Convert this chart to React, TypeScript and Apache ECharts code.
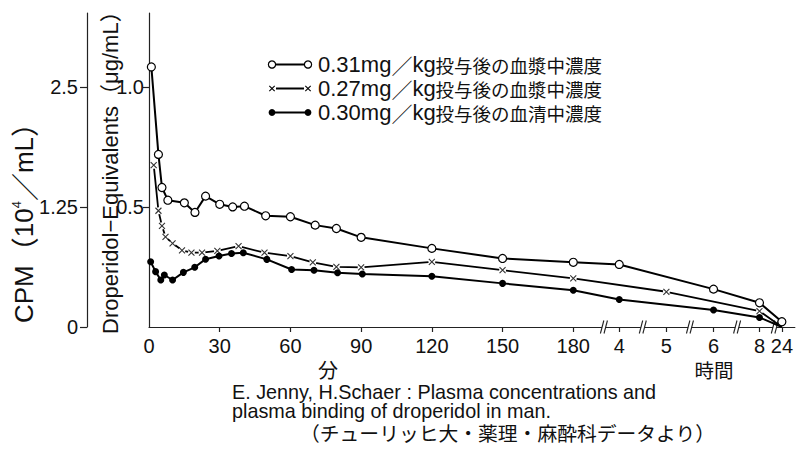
import React, { useEffect, useRef } from "react";
import * as echarts from "echarts";

const LATIN = '"Liberation Sans", Arial, sans-serif';
const CJK = '"Noto Sans CJK JP", sans-serif';
const MIXED = '"Liberation Sans", "Noto Sans CJK JP", sans-serif';
const INK = "#111";

// Sampling times in minutes after dosing
const timesA = [1, 4, 5.5, 8, 15, 19.5, 24, 30, 35.5, 40.5, 49.5, 60, 70.5, 79.5, 90, 120, 150, 180, 240, 360, 480, 1440];
// 0.31 mg/kg, plasma (µg/mL droperidol equivalents)
const plasma031 = [1.085, 0.72, 0.582, 0.529, 0.518, 0.478, 0.546, 0.512, 0.501, 0.504, 0.464, 0.46, 0.425, 0.411, 0.374, 0.328, 0.286, 0.27, 0.261, 0.158, 0.101, 0.022];

const timesB = [2, 4, 5.5, 7, 10, 14, 18, 22.5, 29, 38, 49, 60, 69.5, 79.5, 90, 120, 150, 180, 300, 480, 1440];
// 0.27 mg/kg, plasma
const plasma027 = [0.675, 0.485, 0.422, 0.376, 0.349, 0.32, 0.31, 0.31, 0.318, 0.337, 0.31, 0.296, 0.27, 0.251, 0.249, 0.272, 0.237, 0.203, 0.147, 0.066, 0];

const timesC = [0.7, 2.8, 5, 6.5, 10, 14.6, 19.4, 24, 29.7, 35, 40, 50, 60.5, 70, 80, 90.5, 120, 150, 180, 240, 360, 480, 1440];
// 0.30 mg/kg, serum
const serum030 = [0.272, 0.231, 0.196, 0.217, 0.196, 0.228, 0.249, 0.283, 0.296, 0.307, 0.31, 0.282, 0.24, 0.237, 0.226, 0.221, 0.212, 0.182, 0.153, 0.115, 0.071, 0.04, 0];

// Minute scale (linear), then a broken hour scale
const minuteTicks = [0, 30, 60, 90, 120, 150, 180];
const hourTicks = [4, 5, 6, 8, 24];
const hourAxisPos = [199.5, 219.5, 239.5, 259, 268.5];
const breakAxisPos = [193, 209.5, 229.5, 249.5, 265.5];

// Left axis ticks
const ugTicks = [0.5, 1.0];
const cpmTicks = [0, 1.25, 2.5];
const UG_MAX = 1.31;
const CPM_PER_UG = 2.5;

const legendDose = ["0.31mg", "0.27mg", "0.30mg"];
const legendFluid = ["血漿", "血漿", "血清"];

const captionLines = [
  "E. Jenny, H.Schaer : Plasma concentrations and",
  "plasma binding of droperidol in man.",
  "（チューリッヒ大・薬理・麻酔科データより）",
];

function toAxis(minutes: number): number {
  if (minutes <= 180) return minutes;
  const h = minutes / 60;
  const i = hourTicks.indexOf(h);
  if (i >= 0) return hourAxisPos[i];
  for (let k = 0; k < hourTicks.length - 1; k++) {
    if (h > hourTicks[k] && h < hourTicks[k + 1]) {
      const f = (h - hourTicks[k]) / (hourTicks[k + 1] - hourTicks[k]);
      return hourAxisPos[k] + f * (hourAxisPos[k + 1] - hourAxisPos[k]);
    }
  }
  return hourAxisPos[hourAxisPos.length - 1];
}

function buildLineData(times: number[], vals: number[]) {
  return times.map((t, i) =>
    vals[i] === 0 ? { value: [toAxis(t), vals[i]], symbol: "none" } : [toAxis(t), vals[i]]
  );
}

const CROSS = "path://M0,0L10,10M10,0L0,10";

export default function App() {
  const ref = useRef<HTMLDivElement>(null);

  useEffect(() => {
    const chart = echarts.init(ref.current!, null, { renderer: "svg" });
    const axisLine = { show: true, onZero: false, lineStyle: { color: "#222", width: 1.2 } };
    const tickStyle = { color: "#222", width: 1.2 };
    const labelBase = { color: INK, fontFamily: LATIN, fontSize: 20 };

    chart.setOption({
      animation: false,
      backgroundColor: "#fff",
      grid: { left: 149, right: 0, top: 13, bottom: 123 },
      xAxis: {
        type: "value",
        min: 0,
        max: 274,
        axisLine,
        splitLine: { show: false },
        axisTick: {
          show: true,
          length: 5,
          lineStyle: tickStyle,
          customValues: [...minuteTicks.slice(1), ...hourAxisPos],
        },
        axisLabel: {
          ...labelBase,
          margin: 9,
          customValues: [...minuteTicks, ...hourAxisPos],
          formatter: (v: number) => {
            const i = hourAxisPos.indexOf(v);
            return i >= 0 ? String(hourTicks[i]) : String(v);
          },
        },
      },
      yAxis: [
        {
          type: "value",
          min: 0,
          max: UG_MAX,
          position: "left",
          axisLine,
          splitLine: { show: false },
          axisTick: { show: true, length: 6, lineStyle: tickStyle, customValues: ugTicks },
          axisLabel: {
            ...labelBase,
            margin: 5,
            customValues: ugTicks,
            formatter: (v: number) => v.toFixed(1),
          },
        },
        {
          type: "value",
          min: 0,
          max: UG_MAX * CPM_PER_UG,
          position: "left",
          offset: 62,
          axisLine,
          splitLine: { show: false },
          axisTick: { show: true, length: 7, lineStyle: tickStyle, customValues: cpmTicks },
          axisLabel: {
            ...labelBase,
            margin: 9,
            customValues: cpmTicks,
            formatter: (v: number) => String(v),
          },
        },
      ],
      series: [
        {
          name: "0.31",
          type: "line",
          data: buildLineData(timesA, plasma031),
          symbol: "circle",
          symbolSize: 8,
          lineStyle: { color: "#000", width: 2 },
          itemStyle: { color: "#fff", borderColor: "#000", borderWidth: 1.2 },
          z: 4,
          silent: true,
        },
        {
          name: "0.27",
          type: "line",
          data: buildLineData(timesB, plasma027),
          symbol: "circle",
          symbolSize: 7,
          lineStyle: { color: "#000", width: 1.8 },
          itemStyle: { color: "#fff", borderWidth: 0 },
          z: 2,
          silent: true,
        },
        {
          name: "0.27 marks",
          type: "scatter",
          data: timesB
            .map((t, i) => [toAxis(t), plasma027[i]])
            .filter((d) => d[1] > 0),
          symbol: CROSS,
          symbolSize: 6,
          itemStyle: { color: "#000", borderColor: "#000", borderWidth: 1.1 },
          z: 3,
          silent: true,
        },
        {
          name: "0.30",
          type: "line",
          data: buildLineData(timesC, serum030),
          symbol: "circle",
          symbolSize: 7,
          lineStyle: { color: "#000", width: 2 },
          itemStyle: { color: "#000" },
          z: 3,
          silent: true,
        },
      ],
    });

    const elements: any[] = [];

    // Scale-break marks on the time axis
    const y0 = chart.convertToPixel({ yAxisIndex: 0 }, 0) as number;
    breakAxisPos.forEach((p) => {
      const x = chart.convertToPixel({ xAxisIndex: 0 }, p) as number;
      elements.push({
        type: "polygon",
        z: 1,
        shape: { points: [[x - 3.2, y0 + 6], [x - 0.2, y0 - 6], [x + 3.2, y0 - 6], [x + 0.2, y0 + 6]] },
        style: { fill: "#fff" },
      });
      [-1.8, 1.8].forEach((dx) => {
        elements.push({
          type: "line",
          z: 1,
          shape: { x1: x + dx - 1.7, y1: y0 + 6.5, x2: x + dx + 1.7, y2: y0 - 6.5 },
          style: { stroke: "#222", lineWidth: 1.1 },
        });
      });
    });

    // Axis titles, written bottom-to-top from their start point
    elements.push({
      type: "text",
      x: 24,
      y: 323,
      rotation: Math.PI / 2,
      style: {
        text: "{a|CPM}{c|（}{a|10}{s|4}{c|／}{a|mL}{c|）}",
        align: "left",
        verticalAlign: "middle",
        rich: {
          a: { fontFamily: LATIN, fontSize: 26, fill: INK },
          c: { fontFamily: CJK, fontSize: 28, fill: INK },
          s: { fontFamily: LATIN, fontSize: 13, fill: INK, verticalAlign: "top", padding: [0, 0, 12, 0] },
        },
      },
    });
    elements.push({
      type: "text",
      x: 110,
      y: 334,
      rotation: Math.PI / 2,
      style: {
        text: "Droperidol−Equivalents（μg/mL）",
        fontFamily: MIXED,
        fontSize: 22,
        fill: INK,
        align: "left",
        verticalAlign: "middle",
      },
    });

    // Unit captions under the time axis
    elements.push({
      type: "text",
      x: 328,
      y: 369,
      style: { text: "分", fontFamily: CJK, fontSize: 20, fill: INK, align: "center", verticalAlign: "middle" },
    });
    elements.push({
      type: "text",
      x: 714,
      y: 369.5,
      style: { text: "時間", fontFamily: CJK, fontSize: 19.5, fill: INK, align: "center", verticalAlign: "middle" },
    });

    // Source note
    elements.push({
      type: "text",
      x: 232,
      y: 391.5,
      style: { text: captionLines[0], fontFamily: LATIN, fontSize: 19.8, fill: INK, verticalAlign: "middle" },
    });
    elements.push({
      type: "text",
      x: 232,
      y: 410.5,
      style: { text: captionLines[1], fontFamily: LATIN, fontSize: 19.8, fill: INK, verticalAlign: "middle" },
    });
    elements.push({
      type: "text",
      x: 300,
      y: 432,
      style: { text: captionLines[2], fontFamily: CJK, fontSize: 19.8, fill: INK, verticalAlign: "middle" },
    });

    // Legend
    const rowY = [64.5, 88.5, 112.5];
    const lx1 = 272;
    const lx2 = 308;
    rowY.forEach((y, i) => {
      const gap = i === 1 ? 4 : 0;
      elements.push({
        type: "line",
        z: 5,
        shape: { x1: lx1 + gap, y1: y, x2: lx2 - gap, y2: y },
        style: { stroke: "#000", lineWidth: 2 },
      });
      [lx1, lx2].forEach((cx) => {
        if (i === 0) {
          elements.push({
            type: "circle",
            z: 6,
            shape: { cx, cy: y, r: 3.6 },
            style: { fill: "#fff", stroke: "#000", lineWidth: 1.2 },
          });
        } else if (i === 1) {
          elements.push({
            type: "line",
            z: 6,
            shape: { x1: cx - 2.7, y1: y - 2.7, x2: cx + 2.7, y2: y + 2.7 },
            style: { stroke: "#000", lineWidth: 1.1 },
          });
          elements.push({
            type: "line",
            z: 6,
            shape: { x1: cx - 2.7, y1: y + 2.7, x2: cx + 2.7, y2: y - 2.7 },
            style: { stroke: "#000", lineWidth: 1.1 },
          });
        } else {
          elements.push({
            type: "circle",
            z: 6,
            shape: { cx, cy: y, r: 3.4 },
            style: { fill: "#000" },
          });
        }
      });
      elements.push({
        type: "text",
        z: 6,
        x: 318,
        y,
        style: {
          text: `{a|${legendDose[i]}}{b|／}{a|kg}{c|投与後の${legendFluid[i]}中濃度}`,
          verticalAlign: "middle",
          rich: {
            a: { fontFamily: LATIN, fontSize: 22, lineHeight: 22, fill: INK },
            b: { fontFamily: CJK, fontSize: 21, lineHeight: 22, fill: INK },
            c: { fontFamily: CJK, fontSize: 18.5, lineHeight: 22, fill: INK },
          },
        },
      });
    });

    chart.setOption({ graphic: { elements } });

    return () => chart.dispose();
  }, []);

  return (
    <div
      ref={ref}
      style={{ position: "fixed", left: 0, top: 0, width: 796, height: 450, background: "#fff" }}
    />
  );
}
